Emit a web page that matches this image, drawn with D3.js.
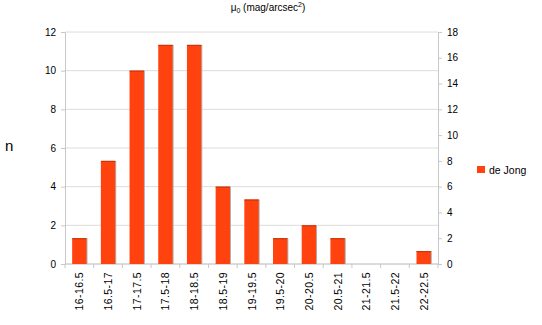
<!DOCTYPE html>
<html>
<head>
<meta charset="utf-8">
<script src="https://cdn.jsdelivr.net/npm/d3@7"></script>
<style>
  body { margin: 0; background: #fff; }
  text { font-family: "Liberation Sans", Arial, sans-serif; fill: #000; }
</style>
</head>
<body>
<div id="chart"></div>
<script>
// bins of mu0 and counts
let bins = ["16-16.5", "16.5-17", "17-17.5", "17.5-18", "18-18.5", "18.5-19", "19-19.5",
            "19.5-20", "20-20.5", "20.5-21", "21-21.5", "21.5-22", "22-22.5"]
let counts = [2, 8, 15, 17, 17, 6, 5, 2, 3, 2, 0, 0, 1]
let leftTicks = [0, 2, 4, 6, 8, 10, 12]
let rightTicks = [0, 2, 4, 6, 8, 10, 12, 14, 16, 18]
let seriesName = "de Jong"

let svgWidth = 542
let svgHeight = 325
let margin = { top: 32, right: 104, bottom: 61, left: 65 }
let width = svgWidth - margin.left - margin.right
let height = svgHeight - margin.top - margin.bottom

let svg = d3.select("#chart").append("svg")
    .attr("width", svgWidth).attr("height", svgHeight)

let g = svg.append("g").attr("transform", `translate(${margin.left},${margin.top})`)

let x = d3.scaleBand().domain(bins).range([0, width]).paddingInner(0.5).paddingOuter(0.25)
let yLeft = d3.scaleLinear().domain([0, 12]).range([height, 0])
let yRight = d3.scaleLinear().domain([0, 18]).range([height, 0])

// horizontal gridlines
g.selectAll(".grid").data(leftTicks).enter().append("line")
    .attr("x1", 0).attr("x2", width)
    .attr("y1", d => yLeft(d)).attr("y2", d => yLeft(d))
    .attr("stroke", "#dcdcdc").attr("stroke-width", 1)

// left axis
let axL = g.append("g").call(d3.axisLeft(yLeft).tickValues(leftTicks).tickSize(4).tickPadding(5))
axL.select(".domain").attr("stroke", "#c8c8c8")
axL.selectAll(".tick line").attr("stroke", "#c8c8c8")
axL.selectAll("text").attr("font-size", 10)

// right axis
let axR = g.append("g").attr("transform", `translate(${width},0)`)
    .call(d3.axisRight(yRight).tickValues(rightTicks).tickSize(4).tickPadding(5))
axR.select(".domain").attr("stroke", "#c8c8c8")
axR.selectAll(".tick line").attr("stroke", "#c8c8c8")
axR.selectAll("text").attr("font-size", 10)

// bottom axis: ticks at category boundaries
let step = x.step()
let bounds = d3.range(bins.length + 1).map(i => i * step)
g.append("line").attr("x1", 0).attr("x2", width).attr("y1", height).attr("y2", height)
    .attr("stroke", "#c8c8c8")
g.selectAll(".xtick").data(bounds).enter().append("line")
    .attr("x1", d => d).attr("x2", d => d)
    .attr("y1", height).attr("y2", height + 4)
    .attr("stroke", "#c8c8c8")

g.selectAll(".xlabel").data(bins).enter().append("text")
    .attr("transform", d => `translate(${x(d) + x.bandwidth() / 2 + 4},${height + 8}) rotate(-90)`)
    .attr("text-anchor", "end")
    .attr("font-size", 10.5)
    .attr("letter-spacing", 0.4)
    .text(d => d)

// bars
let bars = g.selectAll(".bar").data(counts).enter().append("g")
bars.append("rect")
    .attr("x", (d, i) => x(bins[i]) + 1)
    .attr("y", d => yRight(d))
    .attr("width", x.bandwidth())
    .attr("height", d => height - yRight(d))
    .attr("fill", "#b0b0b0")
    .attr("opacity", d => d > 0 ? 1 : 0)
bars.append("rect")
    .attr("x", (d, i) => x(bins[i]))
    .attr("y", d => yRight(d))
    .attr("width", x.bandwidth())
    .attr("height", d => height - yRight(d))
    .attr("fill", "#ff420e")
    .attr("opacity", d => d > 0 ? 1 : 0)
bars.append("line")
    .attr("x1", (d, i) => x(bins[i])).attr("x2", (d, i) => x(bins[i]) + x.bandwidth())
    .attr("y1", d => yRight(d) + 0.5).attr("y2", d => yRight(d) + 0.5)
    .attr("stroke", "#c8320a")
    .attr("opacity", d => d > 0 ? 1 : 0)

// y label
svg.append("text").attr("x", 5).attr("y", 151).attr("font-size", 15).text("n")

// title
let title = svg.append("text").attr("x", 268).attr("y", 11).attr("text-anchor", "middle").attr("font-size", 10)
title.append("tspan").text("μ")
title.append("tspan").attr("font-size", 7).attr("dy", 2).text("0")
title.append("tspan").attr("dy", -2).text(" (mag/arcsec")
title.append("tspan").attr("font-size", 7).attr("dy", -4).text("2")
title.append("tspan").attr("dy", 4).text(")")

// legend
let leg = svg.append("g").attr("transform", "translate(477,166)")
leg.append("rect").attr("width", 8).attr("height", 7).attr("fill", "#ff420e")
leg.append("text").attr("x", 12).attr("y", 7.5).attr("font-size", 10.5).text(seriesName)
</script>
</body>
</html>
